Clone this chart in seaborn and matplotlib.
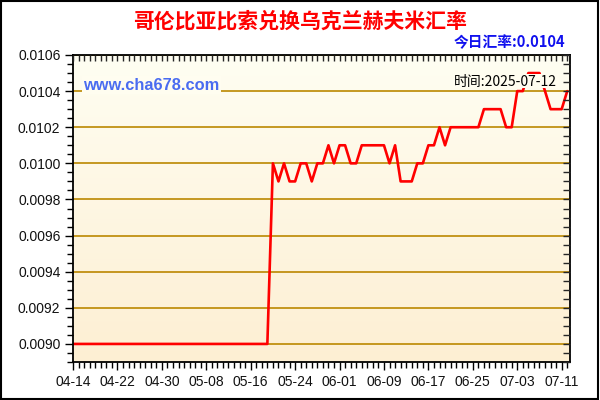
import numpy as np
import pandas as pd
import matplotlib
matplotlib.use("Agg")
import matplotlib.pyplot as plt
import matplotlib.dates as mdates
from matplotlib.ticker import FixedLocator, MultipleLocator, FormatStrFormatter
from matplotlib.colors import LinearSegmentedColormap
from matplotlib.patches import Rectangle
import seaborn as sns

# daily rates, 2025-04-14 .. 2025-07-12
start_date = "2025-04-14"
rates = [
    0.0090, 0.0090, 0.0090, 0.0090, 0.0090, 0.0090, 0.0090, 0.0090, 0.0090, 0.0090,
    0.0090, 0.0090, 0.0090, 0.0090, 0.0090, 0.0090, 0.0090, 0.0090, 0.0090, 0.0090,
    0.0090, 0.0090, 0.0090, 0.0090, 0.0090, 0.0090, 0.0090, 0.0090, 0.0090, 0.0090,
    0.0090, 0.0090, 0.0090, 0.0090, 0.0090, 0.0090, 0.0100, 0.0099, 0.0100, 0.0099,
    0.0099, 0.0100, 0.0100, 0.0099, 0.0100, 0.0100, 0.0101, 0.0100, 0.0101, 0.0101,
    0.0100, 0.0100, 0.0101, 0.0101, 0.0101, 0.0101, 0.0101, 0.0100, 0.0101, 0.0099,
    0.0099, 0.0099, 0.0100, 0.0100, 0.0101, 0.0101, 0.0102, 0.0101, 0.0102, 0.0102,
    0.0102, 0.0102, 0.0102, 0.0102, 0.0103, 0.0103, 0.0103, 0.0103, 0.0102, 0.0102,
    0.0104, 0.0104, 0.0105, 0.0105, 0.0105, 0.0104, 0.0103, 0.0103, 0.0103, 0.0104,
]
tick_labels = ["04-14", "04-22", "04-30", "05-08", "05-16", "05-24",
               "06-01", "06-09", "06-17", "06-25", "07-03", "07-11"]

title = "哥伦比亚比索兑换乌克兰赫夫米汇率"
today_text = "今日汇率:0.0104"
site_text = "www.cha678.com"
time_text = "时间:2025-07-12"

dates = pd.date_range(start_date, periods=len(rates), freq="D")
df = pd.DataFrame({"date": dates, "rate": rates})

sns.set_style("ticks")
plt.rcParams["font.family"] = ["Liberation Sans", "Noto Sans CJK SC", "DejaVu Sans"]

fig = plt.figure(figsize=(6, 4), dpi=100)
ax = fig.add_axes([73 / 600, 1 - 362 / 400, 497 / 600, 307 / 400])

# background gradient
grad = LinearSegmentedColormap.from_list("bg", ["#fdefd3", "#fffef2"])
ax.imshow(np.linspace(0, 1, 256).reshape(-1, 1), cmap=grad, origin="lower",
          extent=[0, 1, 0, 1], transform=ax.transAxes, aspect="auto", zorder=0)

sns.lineplot(data=df, x="date", y="rate", ax=ax, color="#ff0000", linewidth=1.9, zorder=2)

x0 = mdates.date2num(dates[0])
ax.set_xlim(x0, x0 + 89.5)
ax.set_ylim(0.0089, 0.0106)
ax.set_xlabel("")
ax.set_ylabel("")

major_dates = pd.date_range(start_date, periods=len(tick_labels), freq="8D")
ax.xaxis.set_major_locator(FixedLocator(mdates.date2num(major_dates)))
ax.set_xticklabels(tick_labels)
ax.xaxis.set_minor_locator(MultipleLocator(1))
ax.yaxis.set_major_locator(MultipleLocator(0.0002))
ax.yaxis.set_minor_locator(MultipleLocator(0.00005))
ax.yaxis.set_major_formatter(FormatStrFormatter("%.4f"))

ax.grid(axis="y", which="major", color="#bb8800", linewidth=1.2, zorder=1)
ax.set_axisbelow(True)

for s in ax.spines.values():
    s.set_color("black")
    s.set_linewidth(1.3)
    s.set_zorder(4)

ax.tick_params(axis="both", which="major", labelsize=10, length=6, width=1, color="black",
               labelcolor="#111111", pad=3)
ax.tick_params(axis="both", which="minor", length=4, width=1, color="black")
ax.tick_params(axis="both", which="both", direction="out", top=False, right=False)

# inward ticks on top and right
ax2 = ax.twinx()
ax2.set_ylim(ax.get_ylim())
ax2.yaxis.set_major_locator(MultipleLocator(0.0002))
ax2.yaxis.set_minor_locator(MultipleLocator(0.00005))
ax2.tick_params(axis="y", which="both", direction="in", labelright=False, length=5, width=1)
ax2.spines[:].set_visible(False)
ax3 = ax.twiny()
ax3.set_xlim(ax.get_xlim())
ax3.xaxis.set_major_locator(MultipleLocator(1))
ax3.tick_params(axis="x", which="both", direction="in", labeltop=False, length=4, width=1)
ax3.spines[:].set_visible(False)

ax.text(0.02, 0.902, site_text, transform=ax.transAxes, fontsize=11.8, fontweight="bold",
        color="#4a6cf0", va="center", ha="left", zorder=5,
        bbox=dict(facecolor="#fffdf0", edgecolor="none", pad=1))
# plain backdrop behind the date stamp, hides the line under it
ax.add_patch(Rectangle((0.764, 0.892), 0.214, 0.045, transform=ax.transAxes,
                       facecolor="#fffdf0", edgecolor="none", zorder=4))
ax.text(0.974, 0.912, time_text, transform=ax.transAxes, fontsize=10,
        family=["Noto Sans CJK SC", "DejaVu Sans"], color="black", va="center", ha="right",
        zorder=5)

fig.text(0.5, 0.948, title, fontsize=15, fontweight="bold", color="#ff0000",
         family=["Noto Sans CJK SC", "DejaVu Sans"], ha="center", va="center")
fig.text(0.942, 0.895, today_text, fontsize=10.6, fontweight="bold", color="#1010ee",
         family=["Noto Sans CJK SC", "DejaVu Sans"], ha="right", va="center")

fig.patches.append(Rectangle((0.002, 0.003), 0.995, 0.994, transform=fig.transFigure,
                             fill=False, edgecolor="black", linewidth=1.5))

fig.savefig("out.png", dpi=100, facecolor="white")
